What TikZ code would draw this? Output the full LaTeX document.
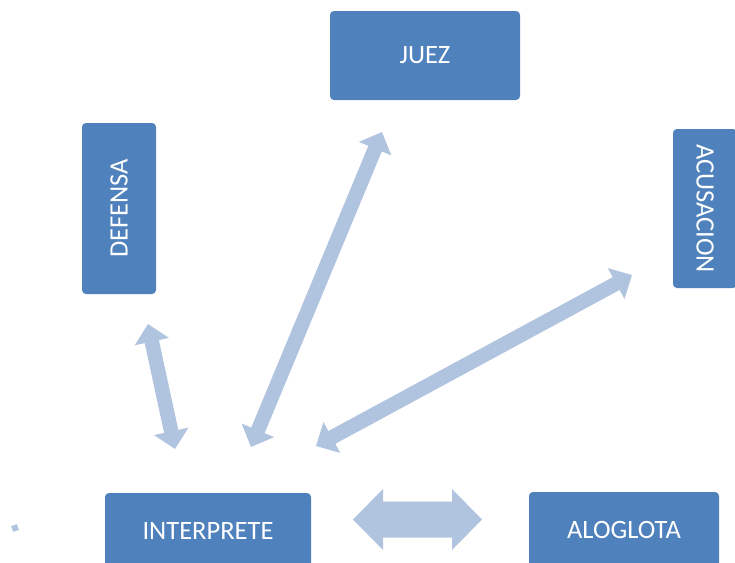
\documentclass[tikz,border=0pt]{standalone}
\usepackage{fontspec}
\setmainfont{Carlito}
\usetikzlibrary{arrows.meta}
\definecolor{boxblue}{HTML}{4F81BD}
\definecolor{arrowblue}{HTML}{B0C3DF}
\tikzset{
  box/.style={draw=none, fill=boxblue, rounded corners=4pt, text=white,
    font=\fontsize{26.5}{30}\selectfont, inner sep=0pt, anchor=center},
  dblarrow/.style={draw=arrowblue, line width=14.5pt,
    {Triangle[length=18pt,width=34pt]}-{Triangle[length=18pt,width=34pt]}}
}
\begin{document}
\begin{tikzpicture}[x=1pt,y=-1pt]
\clip (0,0) rectangle (735,562);
\fill[white] (0,0) rectangle (735,562);
% boxes
\node[box, minimum width=190pt, minimum height=89pt] (juez) at (425,55.5) {JUEZ};
\node[box, minimum width=171pt, minimum height=74pt, rotate=90] (defensa) at (119,208.5) {DEFENSA};
\node[box, minimum width=159pt, minimum height=64pt, rotate=-90] (acusacion) at (705,208.5) {ACUSACION};
\node[box, minimum width=206pt, minimum height=75pt] (interprete) at (208,530.5) {INTERPRETE};
\node[box, minimum width=190pt, minimum height=76pt] (aloglota) at (624,530) {ALOGLOTA};
% small dot
\node[fill=arrowblue, minimum size=6pt, inner sep=0pt, rotate=20] (dot) at (15,528) {};
% arrow end points
\coordinate (dA) at (148,324);
\coordinate (dB) at (175,449);
\coordinate (jA) at (382,132);
\coordinate (jB) at (251,447);
\coordinate (aA) at (632,275);
\coordinate (aB) at (316,446);
\draw[dblarrow] (dA) -- (dB);
\draw[dblarrow] (jA) -- (jB);
\draw[dblarrow] (aA) -- (aB);
% block double arrow between INTERPRETE and ALOGLOTA
\coordinate (bL) at (353,519.5);
\coordinate (bR) at (482,519.5);
\fill[arrowblue] (bL) -- (383,489) -- (383,501.5) -- (452,501.5) -- (452,489)
  -- (bR) -- (452,550) -- (452,537.5) -- (383,537.5) -- (383,550) -- cycle;
\end{tikzpicture}
\end{document}
